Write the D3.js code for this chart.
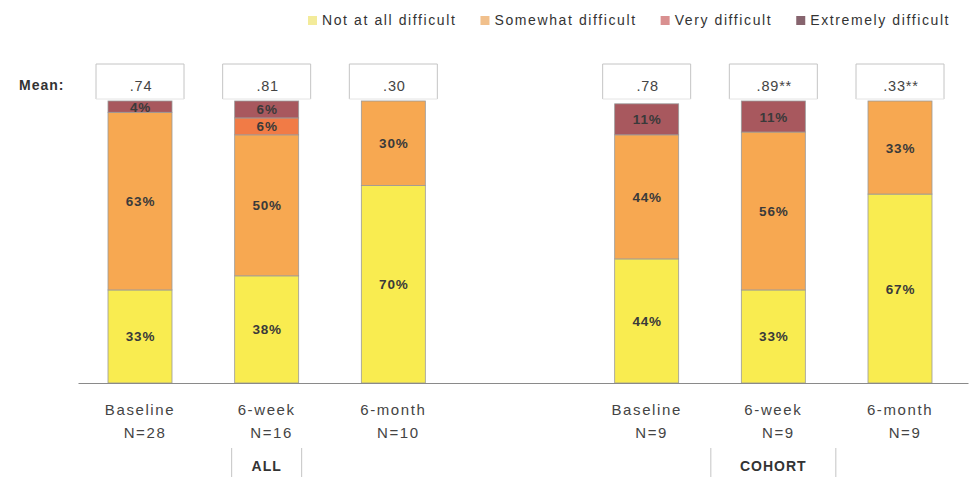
<!DOCTYPE html>
<html>
<head>
<meta charset="utf-8">
<script src="https://cdn.jsdelivr.net/npm/d3@7"></script>
<style>
  html, body { margin: 0; padding: 0; background: #fff; }
  svg { display: block; font-family: "Liberation Sans", Arial, sans-serif; }
</style>
</head>
<body>
<svg id="chart" width="974" height="477"></svg>
<script>
// Time points, shown once for each group of respondents
const timepoints = ["Baseline", "6-week", "6-month"];
const groups = ["ALL", "COHORT"];
const sampleSizes = [28, 16, 10, 9, 9, 9];
const meanLabels = [".74", ".81", ".30", ".78", ".89**", ".33**"];

// Difficulty levels (percent of respondents), one value per bar
const levels = ["Not at all difficult", "Somewhat difficult", "Very difficult", "Extremely difficult"];
const notAtAll  = [33, 38, 70, 44, 33, 67];
const somewhat  = [63, 50, 30, 44, 56, 33];
const very      = [0, 6, 0, 0, 0, 0];
const extremely = [4, 6, 0, 11, 11, 0];

const colors = ["#f9ec50", "#f7a851", "#f17b46", "#a8585e"];
const legendColors = ["#f3eb9a", "#f1c08c", "#d99090", "#86646e"];

const svg = d3.select("#chart");

// One slot per bar plus an empty slot separating the two groups
const slots = [];
groups.forEach((g, gi) => {
  timepoints.forEach(t => slots.push(g + "|" + t));
  if (gi < groups.length - 1) slots.push("gap" + gi);
});

const x = d3.scalePoint().domain(slots).range([140, 900]);
const y = d3.scaleLinear().domain([0, 100]).range([383, 101]);
const barW = 64;

const rows = slots.filter(s => !s.startsWith("gap")).map((k, i) => ({
  key: k,
  group: k.split("|")[0],
  time: k.split("|")[1],
  n: sampleSizes[i],
  mean: meanLabels[i],
  "Not at all difficult": notAtAll[i],
  "Somewhat difficult": somewhat[i],
  "Very difficult": very[i],
  "Extremely difficult": extremely[i]
}));

const stack = d3.stack().keys(levels)(rows);
const color = d3.scaleOrdinal().domain(levels).range(colors);

// Stacked bars
const layer = svg.append("g").selectAll("g").data(stack).join("g")
  .attr("fill", d => color(d.key));
layer.selectAll("rect").data(d => d.filter(p => p[1] - p[0] > 0))
  .join("rect")
  .attr("x", p => x(p.data.key) - barW / 2)
  .attr("y", p => y(p[1]))
  .attr("width", barW)
  .attr("height", p => y(p[0]) - y(p[1]))
  .attr("stroke", "#9a9a9a")
  .attr("stroke-width", 0.8);

// Percent labels inside segments
layer.selectAll("text").data(d => d.filter(p => p[1] - p[0] > 0))
  .join("text")
  .attr("x", p => x(p.data.key) + 0.5)
  .attr("y", p => (y(p[0]) + y(p[1])) / 2 + 5)
  .attr("text-anchor", "middle")
  .attr("font-size", 13.5)
  .attr("letter-spacing", 0.8)
  .attr("font-weight", "bold")
  .attr("fill", "#3a3a3a")
  .text(p => (p[1] - p[0]) + "%");

// Baseline rule
const axis = d3.axisBottom(d3.scaleLinear().domain([0, 1]).range([78, 968]))
  .ticks(0).tickSizeOuter(0);
svg.append("g").attr("transform", `translate(0,${y(0)})`).call(axis)
  .select(".domain").attr("stroke", "#8a8a8a").attr("stroke-width", 1.2);

// Category labels under the bars
const labels = svg.append("g").attr("fill", "#444").attr("font-size", 15)
  .attr("letter-spacing", 1.6).attr("text-anchor", "middle");
labels.selectAll("text.t").data(rows).join("text").attr("class", "t")
  .attr("x", d => x(d.key))
  .attr("y", 415)
  .text(d => d.time);
labels.selectAll("text.n").data(rows).join("text").attr("class", "n")
  .attr("x", d => x(d.key) + 5)
  .attr("y", 438)
  .text(d => "N=" + d.n);

// Mean boxes
svg.append("text").attr("x", 19).attr("y", 90)
  .attr("font-size", 14).attr("letter-spacing", 1).attr("font-weight", "bold")
  .attr("fill", "#333")
  .text("Mean:");
const boxes = svg.append("g").selectAll("g").data(rows).join("g")
  .attr("transform", d => `translate(${x(d.key)},0)`);
boxes.append("path")
  .attr("d", "M-44,99V64H44V99")
  .attr("fill", "#fff").attr("stroke", "#c4c4c4").attr("stroke-width", 1);
boxes.append("path")
  .attr("d", "M-44,99H44")
  .attr("stroke", "#e4e4e4").attr("stroke-width", 1);
boxes.append("text")
  .attr("x", 1).attr("y", 91).attr("text-anchor", "middle")
  .attr("font-size", 14.5).attr("letter-spacing", 0.8).attr("fill", "#444")
  .text(d => d.mean);

// Group captions
const groupCenters = groups.map(g => {
  const ks = rows.filter(r => r.group === g).map(r => x(r.key));
  return { g, cx: d3.mean(ks), w: g === "ALL" ? 70 : 125 };
});
const gc = svg.append("g").selectAll("g").data(groupCenters).join("g")
  .attr("transform", d => `translate(${d.cx},0)`);
gc.append("path")
  .attr("d", d => `M${-d.w / 2},448V477M${d.w / 2},448V477`)
  .attr("stroke", "#c4c4c4").attr("fill", "none");
gc.append("text").attr("y", 471).attr("text-anchor", "middle")
  .attr("font-size", 14).attr("letter-spacing", 1).attr("font-weight", "bold")
  .attr("fill", "#333")
  .text(d => d.g);

// Legend, laid out left to right
const legend = svg.append("g").attr("transform", "translate(308,14)");
let cursor = 0;
levels.forEach((lev, i) => {
  const item = legend.append("g").attr("transform", `translate(${cursor},0)`);
  item.append("rect").attr("width", 9).attr("height", 9).attr("y", 2)
    .attr("fill", legendColors[i]);
  const t = item.append("text").attr("x", 14).attr("y", 11)
    .attr("font-size", 14).attr("letter-spacing", 1.6).attr("fill", "#333")
    .text(lev);
  cursor += 14 + t.node().getComputedTextLength() + 24;
});
</script>
</body>
</html>
